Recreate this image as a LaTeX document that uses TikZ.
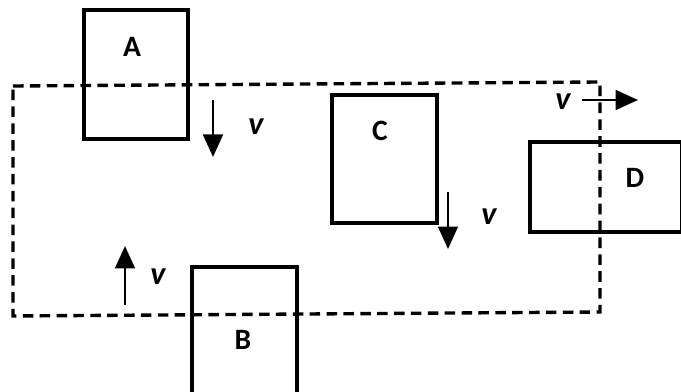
\documentclass[tikz,border=0pt]{standalone}
\usepackage{fontspec}
\setmainfont{Carlito}
\usetikzlibrary{arrows.meta}

\tikzset{
  block/.style={draw,line width=2.6pt,inner sep=0pt,anchor=north west},
  blockname/.style={font=\fontsize{21}{24}\selectfont\bfseries},
  vel/.style={-{Triangle[length=16pt,width=14pt]},line width=2pt},
  vname/.style={font=\fontsize{23}{26}\selectfont\bfseries\itshape},
  boundary/.style={line width=2.4pt,dash pattern=on 7.5pt off 4.5pt}
}

\begin{document}
\begin{tikzpicture}[x=0.025cm,y=-0.025cm]
  \useasboundingbox (0,0) rectangle (681,392);
  \clip (0,0) rectangle (681,392);
  % the dashed control surface
  \draw[boundary] (13,86) -- (600,82) -- (600,312) -- (13,316) -- cycle;
  % the four blocks
  \node (A) [block,minimum width=2.6cm,minimum height=3.225cm] at (82,8) {};
  \node (B) [block,minimum width=2.625cm,minimum height=3.6cm] at (190,265) {};
  \node (C) [block,minimum width=2.625cm,minimum height=3.2cm] at (330,93) {};
  \node (D) [block,minimum width=3.8cm,minimum height=2.25cm] at (528,140) {};
  \node [blockname] at (132,47) {A};
  \node [blockname] at (243,340) {B};
  \node [blockname] at (380,131) {C};
  \node [blockname] at (635,178) {D};
  % velocities
  \coordinate (vA0) at (213,100);
  \coordinate (vA1) at (213,157);
  \coordinate (vB0) at (125,305);
  \coordinate (vB1) at (125,246);
  \coordinate (vC0) at (448,192);
  \coordinate (vC1) at (448,249);
  \coordinate (vD0) at (582,100);
  \coordinate (vD1) at (638,100);
  \draw[vel] (vA0) -- (vA1);
  \draw[vel] (vB0) -- (vB1);
  \draw[vel] (vC0) -- (vC1);
  \draw[vel] (vD0) -- (vD1);
  \node [vname] at (256,127) {v};
  \node [vname] at (158,277) {v};
  \node [vname] at (489,217) {v};
  \node [vname] at (563,102) {v};
\end{tikzpicture}
\end{document}
